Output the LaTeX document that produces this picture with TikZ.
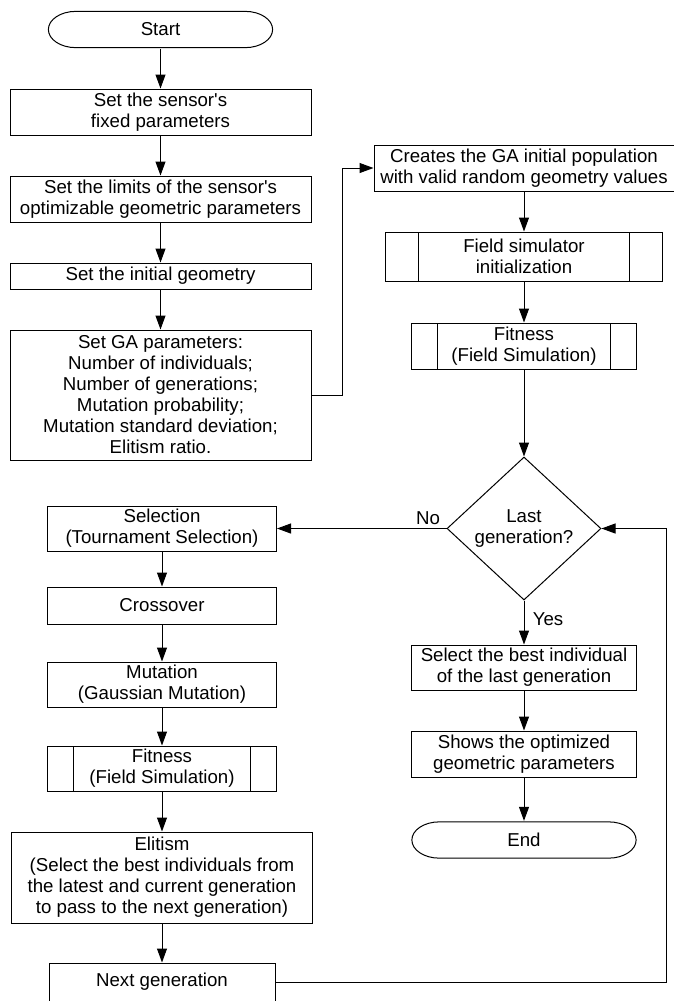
\documentclass[tikz,border=0pt]{standalone}
\usepackage{fontspec}
\setmainfont{Liberation Sans}
\usetikzlibrary{arrows.meta,shapes.geometric}

\begin{document}
\begin{tikzpicture}[x=0.75pt,y=-0.75pt,
  every node/.style={font=\fontsize{14}{15.75}\selectfont},
  line width=0.75pt,
  box/.style={draw,rectangle,align=center,inner sep=0pt},
  subproc/.style={box,path picture={
    \draw ([xshift=#1]path picture bounding box.north west) -- ([xshift=#1]path picture bounding box.south west)
          ([xshift=-#1]path picture bounding box.north east) -- ([xshift=-#1]path picture bounding box.south east);}},
  term/.style={inner sep=0pt,minimum width=169pt,minimum height=28pt,path picture={
    \draw ([xshift=21pt,yshift=-0.4pt]path picture bounding box.north west)
      -- ([xshift=-21pt,yshift=-0.4pt]path picture bounding box.north east)
      arc[start angle=90,end angle=-90,x radius=20.6pt,y radius=13.6pt]
      -- ([xshift=21pt,yshift=0.4pt]path picture bounding box.south west)
      arc[start angle=270,end angle=90,x radius=20.6pt,y radius=13.6pt] -- cycle;}},
  test/.style={draw,diamond,aspect=1.08,inner sep=0pt,align=center},
  arr/.style={-{Triangle[length=10.5pt,width=7.5pt]}}]
\useasboundingbox (0,0) rectangle (674,1001);

% set-up column
\node[term] (start) at (160.5,29.5) {Start};
\node[box,minimum width=225.75pt,minimum height=34.5pt] (fixed) at (160.5,112) {Set the sensor\textquotesingle s\\fixed parameters};
\node[box,minimum width=225.75pt,minimum height=34.5pt] (limits) at (160.5,199) {Set the limits of the sensor\textquotesingle s\\optimizable geometric parameters};
\node[box,minimum width=225.75pt,minimum height=19.5pt] (geom) at (160.5,276) {Set the initial geometry};
\node[box,minimum width=225.75pt,minimum height=97.5pt] (gapar) at (160.5,395) {Set GA parameters:\\Number of individuals;\\Number of generations;\\Mutation probability;\\Mutation standard deviation;\\Elitism ratio.};

% initial population and stop test
\node[box,minimum width=225pt,minimum height=34.5pt] (creates) at (524,168) {Creates the GA initial population\\with valid random geometry values};
\node[subproc=24.75pt,minimum width=207.75pt,minimum height=36.75pt] (fsinit) at (524,256.5) {Field simulator\\initialization};
\node[subproc=19.5pt,minimum width=168.75pt,minimum height=34.5pt] (fit1) at (524,346) {Fitness\\(Field Simulation)};
\node[test,minimum width=115.5pt,minimum height=107.25pt] (last) at (524,528.5) {Last\\generation?};
\node[box,minimum width=168.75pt,minimum height=33.75pt] (best) at (524,667.5) {Select the best individual\\of the last generation};
\node[box,minimum width=168.75pt,minimum height=34.5pt] (shows) at (524,754) {Shows the optimized\\geometric parameters};
\node[term] (end) at (524,840) {End};

% generation loop
\node[box,minimum width=171.75pt,minimum height=33.75pt] (sel) at (162,528.5) {Selection\\(Tournament Selection)};
\node[box,minimum width=171.75pt,minimum height=27.75pt] (cross) at (162,605.5) {Crossover};
\node[box,minimum width=171.75pt,minimum height=33.75pt] (mut) at (162,684.5) {Mutation\\(Gaussian Mutation)};
\node[subproc=19.5pt,minimum width=171.75pt,minimum height=33.75pt] (fit2) at (162,768.5) {Fitness\\(Field Simulation)};
\node[box,minimum width=225.75pt,minimum height=68.25pt] (elit) at (162,877.5) {Elitism\\(Select the best individuals from\\the latest and current generation\\to pass to the next generation)};
\node[box,minimum width=169.5pt,minimum height=28.5pt] (next) at (162,982) {Next generation};

\node (no) at (428,518) {No};
\node (yes) at (548,619) {Yes};

\coordinate (bendA) at (342,395);
\coordinate (bendB) at (666,982);

\draw[arr] (start) -- (fixed);
\draw[arr] (fixed) -- (limits);
\draw[arr] (limits) -- (geom);
\draw[arr] (geom) -- (gapar);
\draw[arr] (gapar.east) -- (bendA) |- (creates.west);

\draw[arr] (creates) -- (fsinit);
\draw[arr] (fsinit) -- (fit1);
\draw[arr] (fit1) -- (last);
\draw[arr] (last.west) -- (sel.east);
\draw[arr] (last.south) -- (best);
\draw[arr] (best) -- (shows);
\draw[arr] (shows) -- (end);

\draw[arr] (sel) -- (cross);
\draw[arr] (cross) -- (mut);
\draw[arr] (mut) -- (fit2);
\draw[arr] (fit2) -- (elit);
\draw[arr] (elit) -- (next);
\draw[arr] (next.east) -- (bendB) |- (last.east);

\end{tikzpicture}
\end{document}
